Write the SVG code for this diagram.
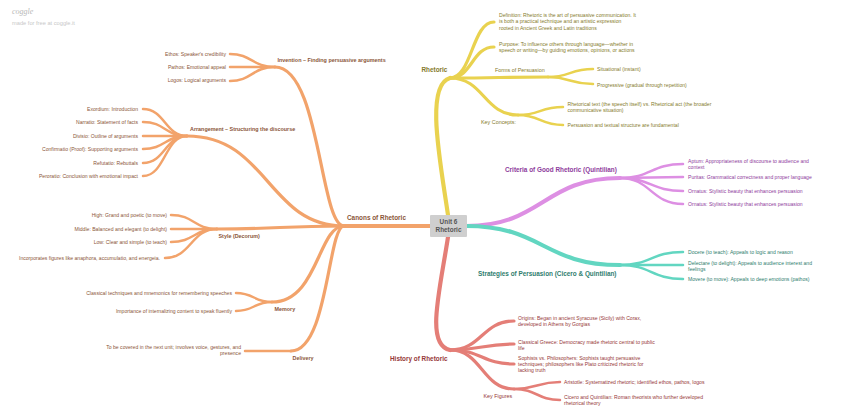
<svg xmlns="http://www.w3.org/2000/svg" width="848" height="420" viewBox="0 0 848 420">
<style>
text{font-family:"Liberation Sans",Arial,sans-serif;}
.c{fill:none;stroke-linecap:round;}
.r{stroke-width:4.2;}
.m{stroke-width:3.2;}
.l{stroke-width:2.5;}
.o{stroke:#F2A36B;}
.y{stroke:#E9D24F;}
.p{stroke:#DD8FE3;}
.t{stroke:#62D6C1;}
.d{stroke:#E47E77;}
.lf{font-size:5.1px;}
.sb{font-size:5.4px;}
.h{font-size:6.4px;font-weight:bold;}
.b{font-size:5.4px;font-weight:bold;}
.e{text-anchor:end;}
.to{fill:#8a5538;}
.ty{fill:#857a2c;}
.tp{fill:#8e3b9c;}
.tt{fill:#2f7d6e;}
.td{fill:#963838;}
</style>
<g id="watermark">
<text x="12" y="14" font-size="8" font-style="italic" fill="#b8b8b8" style="font-family:'Liberation Serif',serif">coggle</text>
<text x="12" y="25" font-size="5.7" fill="#c8c8c8">made for free at coggle.it</text>
</g>
<g id="connectors">
<path class="c r o" d="M430 226 L344 226"/>
<path class="c m o" d="M344 226 C320 226 320 67 275 67"/>
<path class="c m o" d="M344 226 C268 226 268 136 187 136"/>
<path class="c m o" d="M344 226 C280 226 280 229 217 229"/>
<path class="c m o" d="M344 226 C318 226 318 302 272 302"/>
<path class="c m o" d="M344 226 C328 226 328 351 291 351"/>
<path class="c l o" d="M275 67 C252 67 252 54 230 54"/>
<path class="c l o" d="M275 67 L230 67"/>
<path class="c l o" d="M275 67 C252 67 252 81 230 81"/>
<path class="c l o" d="M187 136 C165 136 165 109 143 109"/>
<path class="c l o" d="M187 136 C165 136 165 122 143 122"/>
<path class="c l o" d="M187 136 L143 136"/>
<path class="c l o" d="M187 136 C165 136 165 149 143 149"/>
<path class="c l o" d="M187 136 C165 136 165 163 143 163"/>
<path class="c l o" d="M187 136 C165 136 165 176 143 176"/>
<path class="c l o" d="M217 229 C194 229 194 215 171 215"/>
<path class="c l o" d="M217 229 L171 229"/>
<path class="c l o" d="M217 229 C194 229 194 242 171 242"/>
<path class="c l o" d="M217 229 C191 229 191 258 165 258"/>
<path class="c l o" d="M272 302 C254 302 254 293 236 293"/>
<path class="c l o" d="M272 302 C254 302 254 311 236 311"/>
<path class="c l o" d="M291 351 L245 351"/>
<path class="c r y" d="M448 215 C440 160 425 85 450 78"/>
<path class="c m y" d="M450 78 C472 78 472 22 494 22"/>
<path class="c m y" d="M450 78 C472 78 472 47 494 47"/>
<path class="c m y" d="M450 78 C499 78 499 77 548 77"/>
<path class="c m y" d="M450 78 C484 78 484 115 518 115"/>
<path class="c l y" d="M548 77 C570 77 570 69 593 69"/>
<path class="c l y" d="M548 77 C570 77 570 84 593 84"/>
<path class="c l y" d="M518 115 C540 115 540 107 563 107"/>
<path class="c l y" d="M518 115 C540 115 540 125 563 125"/>
<path class="c r p" d="M466 226 C543 226 543 178 620 178"/>
<path class="c l p" d="M620 178 C651 178 651 164 683 164"/>
<path class="c l p" d="M620 178 C651 178 651 177 683 177"/>
<path class="c l p" d="M620 178 C651 178 651 191 683 191"/>
<path class="c l p" d="M620 178 C651 178 651 204 683 204"/>
<path class="c r t" d="M466 226 C543 226 543 265 620 265"/>
<path class="c l t" d="M620 265 C651 265 651 252 683 252"/>
<path class="c l t" d="M620 265 L683 265"/>
<path class="c l t" d="M620 265 C651 265 651 279 683 279"/>
<path class="c r d" d="M448 237 C440 290 425 345 450 350"/>
<path class="c m d" d="M450 350 C482 350 482 321 514 321"/>
<path class="c m d" d="M450 350 C482 350 482 344 514 344"/>
<path class="c m d" d="M450 350 C482 350 482 364 514 364"/>
<path class="c m d" d="M450 350 C482 350 482 389 514 389"/>
<path class="c l d" d="M514 389 C537 389 537 382 560 382"/>
<path class="c l d" d="M514 389 C537 389 537 400 560 400"/>
</g>
<g id="root">
<rect x="430" y="215" width="37" height="22" rx="1" fill="#cfcfcf"/>
<text x="448.5" y="223.5" class="h" text-anchor="middle" fill="#555">Unit 6</text>
<text x="448.5" y="231.7" class="h" text-anchor="middle" fill="#555">Rhetoric</text>
</g>
<g id="canons"><text x="347" y="220" class="h to">Canons of Rhetoric</text></g>
<g id="invention"><text x="277.5" y="62.2" class="b to">Invention – Finding persuasive arguments</text></g>
<g id="ethos"><text x="226" y="55.5" class="lf e to">Ethos: Speaker's credibility</text></g>
<g id="pathos"><text x="226" y="68.8" class="lf e to">Pathos: Emotional appeal</text></g>
<g id="logos"><text x="226" y="82.1" class="lf e to">Logos: Logical arguments</text></g>
<g id="arrangement"><text x="190" y="131.2" class="b to">Arrangement – Structuring the discourse</text></g>
<g id="exordium"><text x="138" y="110.8" class="lf e to">Exordium: Introduction</text></g>
<g id="narratio"><text x="138" y="124.1" class="lf e to">Narratio: Statement of facts</text></g>
<g id="divisio"><text x="138" y="137.8" class="lf e to">Divisio: Outline of arguments</text></g>
<g id="confirmatio"><text x="138" y="150.8" class="lf e to">Confirmatio (Proof): Supporting arguments</text></g>
<g id="refutatio"><text x="138" y="164.5" class="lf e to">Refutatio: Rebuttals</text></g>
<g id="peroratio"><text x="138" y="177.8" class="lf e to">Peroratio: Conclusion with emotional impact</text></g>
<g id="style"><text x="218.5" y="237.9" class="b to">Style (Decorum)</text></g>
<g id="high"><text x="167" y="217.1" class="lf e to">High: Grand and poetic (to move)</text></g>
<g id="middle"><text x="167" y="230.8" class="lf e to">Middle: Balanced and elegant (to delight)</text></g>
<g id="low"><text x="167" y="244.1" class="lf e to">Low: Clear and simple (to teach)</text></g>
<g id="figures"><text x="160" y="259.8" class="lf e to">Incorporates figures like anaphora, accumulatio, and energeia.</text></g>
<g id="memory"><text x="274.5" y="310.9" class="b to">Memory</text></g>
<g id="mnemonics"><text x="232" y="294.8" class="lf e to">Classical techniques and mnemonics for remembering speeches</text></g>
<g id="internalizing"><text x="232" y="312.5" class="lf e to">Importance of internalizing content to speak fluently</text></g>
<g id="delivery"><text x="292.5" y="359.6" class="b to">Delivery</text></g>
<g id="nextunit"><text x="241" y="349.1" class="lf e to">To be covered in the next unit; involves voice, gestures, and</text><text x="241" y="355.3" class="lf e to">presence</text></g>
<g id="rhetoric"><text x="421.5" y="71.6" class="h ty">Rhetoric</text></g>
<g id="definition"><text class="lf ty"><tspan x="499" y="16.8">Definition: Rhetoric is the art of persuasive communication. It</tspan><tspan x="499" y="23.3">is both a practical technique and an artistic expression</tspan><tspan x="499" y="29.8">rooted in Ancient Greek and Latin traditions</tspan></text></g>
<g id="purpose"><text class="lf ty"><tspan x="499" y="45.8">Purpose: To influence others through language—whether in</tspan><tspan x="499" y="52.3">speech or writing—by guiding emotions, opinions, or actions</tspan></text></g>
<g id="forms"><text x="495" y="72.2" class="sb ty">Forms of Persuasion</text></g>
<g id="situational"><text x="597" y="70.6" class="lf ty">Situational (instant)</text></g>
<g id="progressive"><text x="597" y="86.5" class="lf ty">Progressive (gradual through repetition)</text></g>
<g id="keyconcepts"><text x="481" y="123.6" class="sb ty">Key Concepts:</text></g>
<g id="textact"><text class="lf ty"><tspan x="567.5" y="105.5">Rhetorical text (the speech itself) vs. Rhetorical act (the broader</tspan><tspan x="567.5" y="111.6">communicative situation)</tspan></text></g>
<g id="structure"><text x="567.5" y="126.5" class="lf ty">Persuasion and textual structure are fundamental</text></g>
<g id="criteria"><text x="505" y="172.3" class="h tp">Criteria of Good Rhetoric (Quintilian)</text></g>
<g id="aptum"><text class="lf tp"><tspan x="688" y="162.5">Aptum: Appropriateness of discourse to audience and</tspan><tspan x="688" y="168.6">context</tspan></text></g>
<g id="puritas"><text x="688" y="179.1" class="lf tp">Puritas: Grammatical correctness and proper language</text></g>
<g id="ornatus1"><text x="688" y="192.8" class="lf tp">Ornatus: Stylistic beauty that enhances persuasion</text></g>
<g id="ornatus2"><text x="688" y="205.8" class="lf tp">Ornatus: Stylistic beauty that enhances persuasion</text></g>
<g id="strategies"><text x="478" y="276" class="h tt">Strategies of Persuasion (Cicero &amp; Quintilian)</text></g>
<g id="docere"><text x="688" y="254.1" class="lf tt">Docere (to teach): Appeals to logic and reason</text></g>
<g id="delectare"><text class="lf tt"><tspan x="688" y="264.5">Delectare (to delight): Appeals to audience interest and</tspan><tspan x="688" y="270.8">feelings</tspan></text></g>
<g id="movere"><text x="688" y="281.1" class="lf tt">Movere (to move): Appeals to deep emotions (pathos)</text></g>
<g id="history"><text x="390" y="360.6" class="h td">History of Rhetoric</text></g>
<g id="origins"><text class="lf td"><tspan x="518" y="320.1">Origins: Began in ancient Syracuse (Sicily) with Corax,</tspan><tspan x="518" y="326.2">developed in Athens by Gorgias</tspan></text></g>
<g id="greece"><text class="lf td"><tspan x="518" y="343.5">Classical Greece: Democracy made rhetoric central to public</tspan><tspan x="518" y="349.6">life</tspan></text></g>
<g id="sophists"><text class="lf td"><tspan x="518" y="359.5">Sophists vs. Philosophers: Sophists taught persuasive</tspan><tspan x="518" y="365.8">techniques; philosophers like Plato criticized rhetoric for</tspan><tspan x="518" y="372.3">lacking truth</tspan></text></g>
<g id="keyfigures"><text x="483.5" y="397.9" class="sb td">Key Figures</text></g>
<g id="aristotle"><text x="564" y="383.8" class="lf td">Aristotle: Systematized rhetoric; identified ethos, pathos, logos</text></g>
<g id="cicero"><text class="lf td"><tspan x="564" y="398.5">Cicero and Quintilian: Roman theorists who further developed</tspan><tspan x="564" y="404.6">rhetorical theory</tspan></text></g>
</svg>
